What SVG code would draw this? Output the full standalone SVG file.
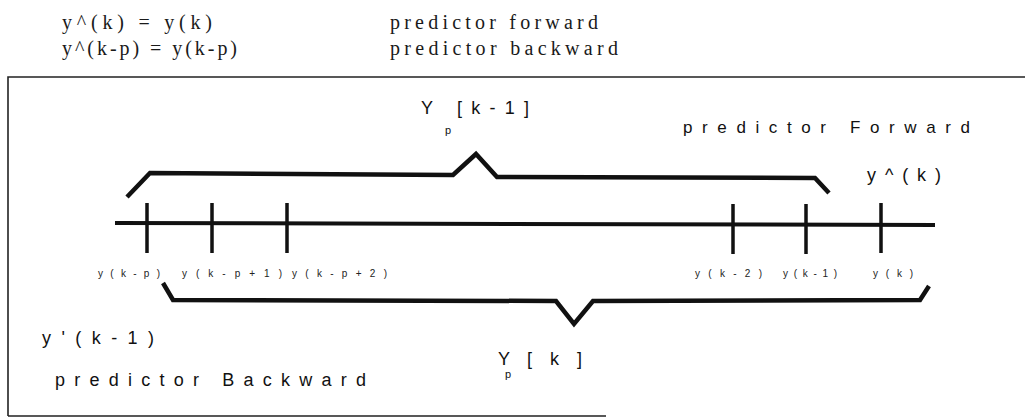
<svg xmlns="http://www.w3.org/2000/svg" width="1025" height="417" viewBox="0 0 1025 417">
<style>
.hdr{font-family:"Liberation Serif","Times New Roman",serif;font-size:20px;fill:#1a1a1a}
.lbl{font-family:"Liberation Sans",Arial,sans-serif;font-size:17px;fill:#111}
.big{font-family:"Liberation Sans",Arial,sans-serif;font-size:18px;fill:#111}
.sub{font-family:"Liberation Sans",Arial,sans-serif;font-size:11px;fill:#111}
.tick{font-family:"Liberation Sans",Arial,sans-serif;font-size:10px;fill:#222}
.frame{fill:none;stroke:#222;stroke-width:1.6}
.axis{fill:none;stroke:#111;stroke-width:4}
.tk{fill:none;stroke:#111;stroke-width:3.5}
.brace{fill:none;stroke:#111;stroke-width:4.5;stroke-linejoin:miter}
</style>
<rect width="1025" height="417" fill="#fff"/>
<g id="header">
<text class="hdr" x="62" y="29" textLength="150" lengthAdjust="spacing">y^(k) = y(k)</text>
<text class="hdr" x="390" y="29" textLength="208" lengthAdjust="spacing">predictor forward</text>
<text class="hdr" x="62" y="55" textLength="175" lengthAdjust="spacing">y^(k-p) = y(k-p)</text>
<text class="hdr" x="390" y="55" textLength="228" lengthAdjust="spacing">predictor backward</text>
</g>
<g id="frame">
<path class="frame" d="M8,416 L8,77 L1025,77 M8,416 L606,416"/>
</g>
<g id="connectors">
<path class="axis" d="M115,223 L935,225"/>
<path class="tk" d="M147,203 V253 M212,203 V253 M287,203 V253 M733,204 V254 M806,204 V254 M881,203 V253"/>
<path class="brace" d="M127,197 L150,173 L453,175 L476,154 L497,177 L815,178 L829,193"/>
<path class="brace" d="M163,283 L173,300 L556,301 L574,324 L593,301 L920,300 L929,286"/>
</g>
<g id="ticklabels">
<text class="tick" x="98" y="277" textLength="62" lengthAdjust="spacing">y(k-p)</text>
<text class="tick" x="182" y="277" textLength="100" lengthAdjust="spacing">y(k-p+1)</text>
<text class="tick" x="292" y="277" textLength="95" lengthAdjust="spacing">y(k-p+2)</text>
<text class="tick" x="695" y="277" textLength="67" lengthAdjust="spacing">y(k-2)</text>
<text class="tick" x="783" y="277" textLength="54" lengthAdjust="spacing">y(k-1)</text>
<text class="tick" x="873" y="277" textLength="40" lengthAdjust="spacing">y(k)</text>
</g>
<g id="node-Ypk1">
<text class="big" x="421" y="114">Y</text>
<text class="sub" x="445" y="134">p</text>
<text class="big" x="457" y="114" textLength="72" lengthAdjust="spacing">[k-1]</text>
</g>
<g id="node-forward">
<text class="lbl" x="683" y="133" textLength="287" lengthAdjust="spacing">predictor Forward</text>
<text class="big" x="867" y="181" textLength="74" lengthAdjust="spacing">y^(k)</text>
</g>
<g id="node-backward">
<text class="big" x="42" y="344" textLength="112" lengthAdjust="spacing">y'(k-1)</text>
<text class="big" x="55" y="386" textLength="311" lengthAdjust="spacing">predictor Backward</text>
</g>
<g id="node-Ypk">
<text class="big" x="498" y="365">Y</text>
<text class="sub" x="505" y="378">p</text>
<text class="big" x="527" y="365" textLength="55" lengthAdjust="spacing">[k]</text>
</g>
</svg>
